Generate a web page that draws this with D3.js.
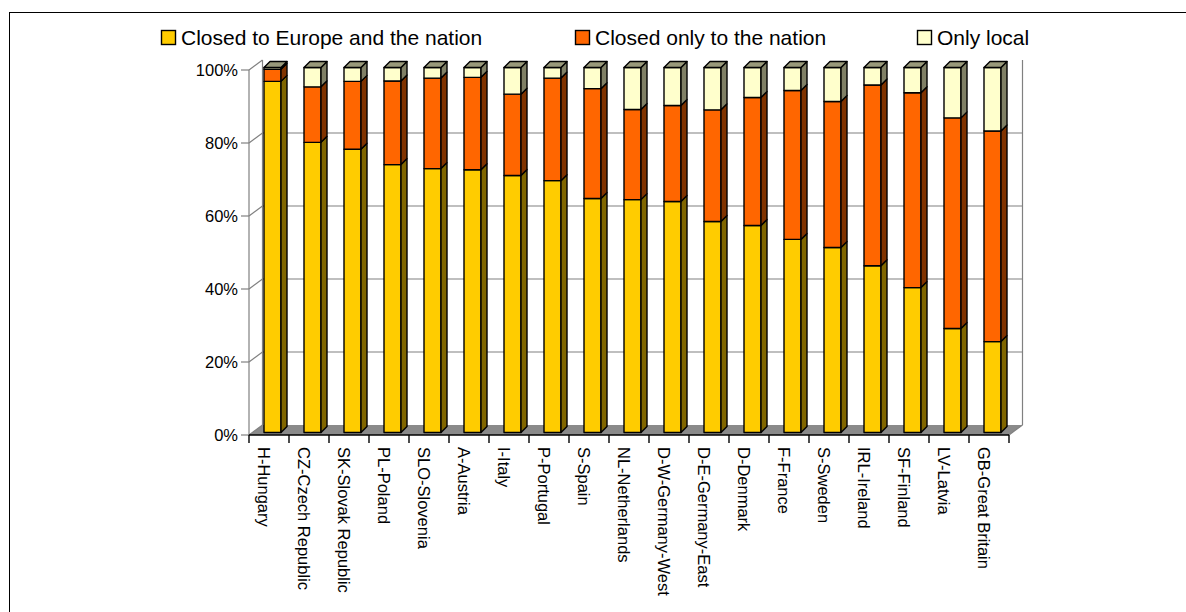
<!DOCTYPE html>
<html><head><meta charset="utf-8">
<script src="https://cdn.jsdelivr.net/npm/d3@7"></script>
<style>
html,body{margin:0;padding:0;background:#fff;}
svg{display:block;font-family:"Liberation Sans",Arial,sans-serif;}
</style></head>
<body>
<svg id="chart" width="1186" height="612"></svg>
<script>
const categories = ["H-Hungary","CZ-Czech Republic","SK-Slovak Republic","PL-Poland","SLO-Slovenia","A-Austria","I-Italy","P-Portugal","S-Spain","NL-Netherlands","D-W-Germany-West","D-E-Germany-East","D-Denmark","F-France","S-Sweden","IRL-Ireland","SF-Finland","LV-Latvia","GB-Great Britain"];
const europe = [96.2,79.5,77.6,73.4,72.3,72.0,70.4,69.0,64.1,63.8,63.3,57.8,56.7,52.9,50.7,45.7,39.7,28.5,24.9];
const nation = [3.3,15.2,18.6,22.9,24.8,25.3,22.3,28.1,30.1,24.7,26.3,30.6,35.1,40.8,40.0,49.5,53.4,57.7,57.7];
const local  = [0.5,5.3,3.8,3.7,2.9,2.7,7.3,2.9,5.8,11.5,10.4,11.6,8.2,6.3,9.3,4.8,6.9,13.8,17.4];
const seriesNames = ["Closed to Europe and the nation","Closed only to the nation","Only local"];
const yTicks = [0,20,40,60,80,100];

const front = ["#FFCC00","#FF6600","#FFFFCC"];
const side  = ["#806600","#803300","#808066"];
const topc  = ["#997A00","#993D00","#99997A"];

const svg = d3.select("#chart");
const X0 = 249, X1 = 1009, Y0 = 435, Y1 = 70;
const DX = 13.5, DY = -10;          // wall depth
const BFX = 3.5, BFY = -2.5;        // bar front plane offset
const BDX = 6, BDY = -6;            // bar depth
const BW = 17;

const x = d3.scaleBand().domain(categories).range([X0, X1]);
const y = d3.scaleLinear().domain([0,100]).range([Y0, Y1]);

// border
svg.append("rect").attr("x",9.5).attr("y",12.5).attr("width",1300).attr("height",700)
  .attr("fill","none").attr("stroke","#000").attr("stroke-width",1);

// floor
svg.append("path").attr("d",`M${X0},${Y0}L${X1},${Y0}L${X1+DX},${Y0+DY}L${X0+DX},${Y0+DY}Z`)
  .attr("fill","#8a8a8a").attr("stroke","none");

const grid = svg.append("g").attr("stroke","#808080").attr("stroke-width",1.2).attr("fill","none");
// gridlines on back wall
yTicks.filter(t=>t>0 && t<100).forEach(t=>{
  grid.append("line").attr("x1",X0+DX).attr("x2",X1+DX).attr("y1",y(t)+DY).attr("y2",y(t)+DY);
});
// left wall diagonals
yTicks.forEach(t=>{
  grid.append("line").attr("x1",X0).attr("y1",y(t)).attr("x2",X0+DX).attr("y2",y(t)+DY);
});
// back left vertical, right vertical, front axis
grid.append("line").attr("x1",X0+DX).attr("x2",X0+DX).attr("y1",y(100)+DY).attr("y2",y(0)+DY);
grid.append("line").attr("x1",X1+DX).attr("x2",X1+DX).attr("y1",y(100)+DY).attr("y2",y(0)+DY);
grid.append("line").attr("x1",X0).attr("x2",X0).attr("y1",y(100)).attr("y2",y(0));
grid.append("line").attr("x1",X1).attr("y1",Y0).attr("x2",X1+DX).attr("y2",Y0+DY);

// y axis ticks and labels
yTicks.forEach(t=>{
  grid.append("line").attr("x1",X0-8).attr("x2",X0).attr("y1",y(t)).attr("y2",y(t));
  svg.append("text").attr("x",X0-11).attr("y",y(t)).attr("dy","0.36em")
    .attr("text-anchor","end").attr("font-size",16.5).attr("fill","#000").text(t+"%");
});

// bars
const data = categories.map((c,i)=>({c, v:[europe[i],nation[i],local[i]]}));
const bars = svg.append("g").attr("stroke","#000").attr("stroke-width",1.4).attr("stroke-linejoin","round");
data.forEach(d=>{
  const xl = x(d.c) + (x.bandwidth()-BW)/2 + BFX;
  const xr = xl + BW;
  let cum = 0;
  d.v.forEach((v,k)=>{
    const yb = y(cum)+BFY, yt = y(cum+v)+BFY;
    cum += v;
    if (v<=0) return;
    bars.append("path").attr("d",`M${xl},${yb}L${xr},${yb}L${xr},${yt}L${xl},${yt}Z`).attr("fill",front[k]);
    bars.append("path").attr("d",`M${xr},${yb}L${xr+BDX},${yb+BDY}L${xr+BDX},${yt+BDY}L${xr},${yt}Z`).attr("fill",side[k]);
    if (k===2) {
      bars.append("path").attr("d",`M${xl},${yt}L${xr},${yt}L${xr+BDX},${yt+BDY}L${xl+BDX},${yt+BDY}Z`).attr("fill",topc[k]);
    }
  });
});

// x axis line + ticks
const ax = svg.append("g").attr("stroke","#000").attr("stroke-width",1.4);
ax.append("line").attr("x1",X0).attr("x2",X1).attr("y1",Y0).attr("y2",Y0);
d3.range(categories.length+1).forEach(i=>{
  const xx = X0 + i*x.step();
  ax.append("line").attr("x1",xx).attr("x2",xx).attr("y1",Y0).attr("y2",Y0+8);
});
// x labels
categories.forEach(c=>{
  svg.append("text").attr("transform",`translate(${x(c)+x.bandwidth()/2-5},447) rotate(90)`)
    .attr("dy","0.35em").attr("font-size",16.5).attr("fill","#000").text(c);
});

// legend
const legX = [161,575,917];
const legend = svg.append("g");
seriesNames.forEach((s,k)=>{
  legend.append("rect").attr("x",legX[k]+0.5).attr("y",30.5).attr("width",14).attr("height",14)
    .attr("fill",front[k]).attr("stroke","#000").attr("stroke-width",1.4);
  legend.append("text").attr("x",legX[k]+20).attr("y",45).attr("font-size",21).attr("fill","#000").text(s);
});
</script>
</body></html>
